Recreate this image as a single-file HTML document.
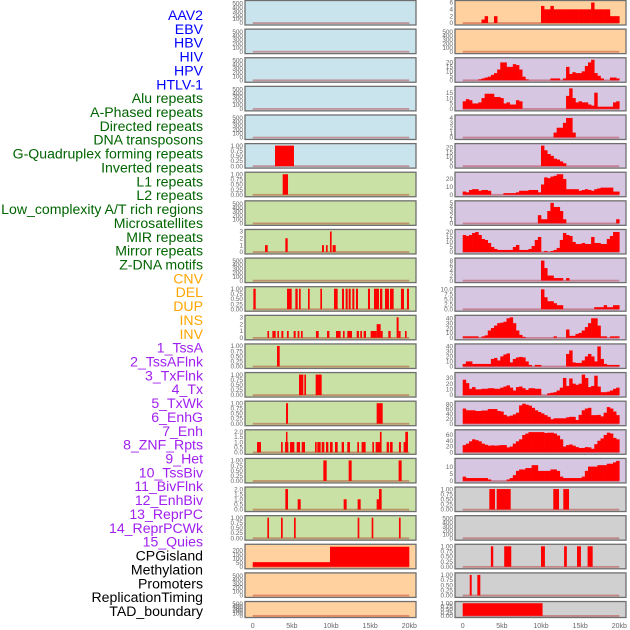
<!DOCTYPE html>
<html><head><meta charset="utf-8">
<style>
html,body{margin:0;padding:0;background:#fff;}
svg{display:block;}
</style></head>
<body>
<svg id="chart" width="630" height="630" viewBox="0 0 630 630" xmlns="http://www.w3.org/2000/svg">
<g id="labels" font-family="Liberation Sans, sans-serif" font-size="14.1" text-anchor="end"></g>
<g id="panels"></g>
<g id="xaxis" font-family="Liberation Sans, sans-serif" font-size="7" fill="#666" text-anchor="middle"></g>
</svg>
<script>
// ---- labels ----
const trackLabels = ["AAV2","EBV","HBV","HIV","HPV","HTLV-1","Alu repeats","A-Phased repeats","Directed repeats","DNA transposons","G-Quadruplex forming repeats","Inverted repeats","L1 repeats","L2 repeats","Low_complexity A/T rich regions","Microsatellites","MIR repeats","Mirror repeats","Z-DNA motifs","CNV","DEL","DUP","INS","INV","1_TssA","2_TssAFlnk","3_TxFlnk","4_Tx","5_TxWk","6_EnhG","7_Enh","8_ZNF_Rpts","9_Het","10_TssBiv","11_BivFlnk","12_EnhBiv","13_ReprPC","14_ReprPCWk","15_Quies","CPGisland","Methylation","Promoters","ReplicationTiming","TAD_boundary"];
const labelGroups = ["v","v","v","v","v","v","r","r","r","r","r","r","r","r","r","r","r","r","r","s","s","s","s","s","c","c","c","c","c","c","c","c","c","c","c","c","c","c","c","o","o","o","o","o"];
const xTickValues = [0,5000,10000,15000,20000];
const xTickLabels = ["0","5kb","10kb","15kb","20kb"];

// ---- left column: intervals [start,end,height] ----
const leftBg = ["blue","blue","blue","blue","blue","blue","green","green","green","green","green","green","green","green","green","green","green","green","green","peach","peach","peach"];
const leftMax = [0,0,0,0,0,1,1,0,3,0,1,3,1,1,1,2,1,2,1,245,0,0];
const leftTicks = [null,null,null,null,null,"u","u",null,"3",null,"u","3","u","u","u","2","u","2","u","cpg",null,null];
const leftIntervals = [
 [],[],[],[],[],
 [[2850,5270,1]],
 [[3830,4510,1]],
 [],
 [[1575,1915,1],[4170,4470,2],[8850,9100,1],[9360,9570,1],[9870,10080,3],[10210,10600,1]],
 [],
 [[85,383,1],[4383,4979,1],[5447,5745,1],[5915,6128,1],[7064,7277,1],[8638,8851,1],[10383,10851,1],[11404,11660,1],[11872,12128,1],[12255,12511,1],[12723,12979,1],[13191,13447,1],[14723,14979,1],[15489,16128,1],[16255,16553,1],[16894,17404,1],[17532,18000,1],[18936,19319,1],[19702,19957,1]],
 [[1880,2090,1],[2510,2940,1],[3150,3360,1],[3660,3910,1],[4380,4600,1],[5230,5490,1],[5740,5960,1],[6170,6380,1],[8080,8430,1],[9490,9790,1],[10640,11230,1],[11530,11740,1],[12080,12680,1],[13280,13570,1],[13740,13960,1],[14170,14470,1],[15060,15830,1],[15830,16340,2],[16340,16600,1],[17320,17620,1],[18380,18640,3],[18640,18890,1],[19450,19660,1]],
 [[3106,3447,1]],
 [[5915,6468,1],[6596,6809,1],[8042,8809,1]],
 [[4255,4511,1],[15830,16600,1]],
 [[550,1060,1],[3620,3830,1],[4130,4550,1],[4250,4420,2],[4770,5320,1],[5620,6040,1],[6260,6680,1],[7960,8170,1],[8250,8680,1],[8810,9150,1],[9360,9660,1],[9870,10210,1],[10510,10850,1],[11360,11660,1],[12080,12420,1],[13360,13570,1],[13910,14420,1],[15280,15490,1],[15700,16340,1],[16250,16460,2],[17110,17400,1],[17530,17870,1],[18680,18930,1],[19270,19740,1],[19490,19830,2]],
 [[9021,9447,1],[12255,12638,1],[18638,19021,1]],
 [[4170,4510,2],[5745,6128,1],[11617,12000,1],[13400,13787,1],[15830,16128,1],[16128,16468,2]],
 [[1872,2085,1],[3617,3830,1],[5277,5490,1],[13404,13617,1],[15191,15404,1],[18680,18894,1]],
 [[0,9872,55],[9872,20000,240]],
 [],[]
];

// ---- right column: 50 bins of 400bp (histograms) or intervals ----
const rightBg = ["peach","peach","lav","lav","lav","lav","lav","lav","lav","lav","lav","lav","lav","lav","lav","lav","lav","gray","gray","gray","gray","gray"];
const rightMax = [6,0,23,19,4.2,22,26,5,20.5,8.2,10.3,42,41,36,84,71,14.3,1,0,1,1,1];
const rightTicks = [[0,2,4,6],null,[0,5,10,15,20],[0,5,10,15],[0,1,2,3,4],[0,5,10,15,20],[0,10,20],[0,1,2,3,4,5],[0,5,10,15,20],[0,2,4,6,8],["2.5"],[0,10,20,30,40],[0,10,20,30,40],[0,10,20,30],[0,20,40,60,80],[0,20,40,60],[0,5,10],"u",null,"u","u","u"];
const binsAAV2   = [0,0,0,0,0,0,1,2,0,0,2,0,0,0,0,0,0,0,0,0,0,0,0,0,0,5,4,4,5,4,4,4,4,4,4,4,4,4,4,4,4,6,4,4,4,4,4,2,2,2];
const binsHIV    = [0,0,0,0,0,1,2,3,4,6,8,12,20,20,15,15,18,17,12,4,1,0,0,0,0,0,0,0,2,2,2,0,2,15,7,9,8,8,10,16,20,23,8,5,2,0,0,3,3,2];
const binsHPV    = [7,9,8,5,5,6,10,14,14,14,11,11,10,5,6,4,4,8,7,0,0,0,0,0,0,0,0,0,0,0,0,0,0,12,19,10,6,7,6,6,4,3,15,2,2,2,2,2,6,7];
const binsAlu    = [0,0,0,0,0,0,0,0,0,0,0,0,0,0,0,0,0,0,0,0,0,0,0,0,0,0,0,0,0,1,2,2,3,4,4,1,0,0,0,0,0,0,0,0,0,0,0,0,0,0];
const binsAPh    = [0,0,0,0,0,0,0,0,0,0,0,0,0,0,0,0,0,0,0,0,0,0,0,0,0,22,17,13,11,8,7,5,3,0,0,0,0,0,0,0,0,0,0,0,0,0,0,0,0,0];
const binsDir    = [4,3,6,7,7,5,6,6,5,0,0,0,0,2,2,2,2,3,5,5,5,6,6,6,3,13,22,21,23,24,26,26,20,7,7,7,7,5,6,7,6,5,7,8,9,9,9,9,4,4];
const binsL2     = [0,0,0,0,0,0,0,0,0,0,0,0,0,0,0,0,0,0,0,0,0,0,0,0,2,1,1,3,5,4,4,3,1,0,0,0,0,0,0,0,0,0,0,0,0,0,0,0,0,1];
const binsLowC   = [17,16,17,19,20,17,13,12,9,5,3,2,2,2,2,2,5,7,2,2,2,3,6,12,15,0,1,0,1,2,4,12,19,17,16,10,8,8,9,8,8,15,9,9,8,8,13,16,20,20];
const binsMicro  = [0,0,0,0,0,0,0,0,0,0,0,0,0,0,0,0,0,0,0,0,0,0,0,0,0,8,5,2,2,1,1,1,0,1,0,0,0,0,0,0,0,0,0,0,0,0,0,0,0,0];
const binsMirror = [0,0,0,0,0,0,0,0,0,0,0,0,0,0,0,0,0,0,0,0,0,0,0,0,0,10,6,4,4,3,2,2,0,0,0,0,0,0,0,0,0,0,1,1,1,2,1,1,2,2];
const binsZDNA   = [3,3,3,3,3,0,3,5,15,20,25,30,31,33,40,42,30,15,6,2,0,0,0,0,0,0,0,0,0,3,0,0,0,17,4,4,8,10,15,22,30,40,40,25,3,3,0,3,3,3];
const binsR13    = [5,10,10,5,5,5,5,5,5,15,17,12,20,24,26,8,15,18,19,18,10,3,0,3,3,0,0,0,0,0,0,0,0,25,32,8,7,7,12,20,25,20,10,40,15,5,3,3,3,3];
const binsR14    = [27,21,11,14,10,10,11,11,12,12,11,11,13,15,17,13,8,14,15,12,9,12,12,11,11,0,0,3,4,5,8,13,30,16,29,20,18,20,36,30,14,16,34,15,5,5,6,8,11,13];
const binsR15    = [62,55,55,55,52,52,54,54,60,60,60,52,50,36,30,33,38,45,75,82,78,74,65,55,48,42,35,28,18,22,22,22,22,26,28,28,15,36,55,62,65,35,35,36,30,45,68,62,50,35];
const binsR16    = [25,30,38,45,42,38,30,26,23,24,23,24,25,25,17,20,30,38,45,60,65,70,70,70,70,70,67,68,68,65,58,45,20,25,27,23,18,15,15,18,17,12,28,40,48,60,68,65,50,45];
const binsR17    = [3,2,2,2,2,2,2,2,1,0,0,0,0,0,1,2,4,7,8,8,9,9,11,11,7,7,7,7,8,8,7,3,2,2,2,2,2,2,3,7,10,10,10,11,11,11,12,12,13,14];
const rightIntR18 = [[3400,4130,1],[4340,6130,1],[11570,12300,1],[12850,13580,1]];
const rightIntR20 = [[3600,3900,1],[5300,6200,1],[10000,10500,1],[12950,13300,1],[14600,15100,1],[15950,16600,1]];
const rightIntR21 = [[900,1150,1],[1870,2250,1]];
const rightIntR22 = [[0,10200,1]];
const rightData = [binsAAV2,null,binsHIV,binsHPV,binsAlu,binsAPh,binsDir,binsL2,binsLowC,binsMicro,binsMirror,binsZDNA,binsR13,binsR14,binsR15,binsR16,binsR17,rightIntR18,null,rightIntR20,rightIntR21,rightIntR22];

const NS = "http://www.w3.org/2000/svg";
const colors = {v:"#0000ff",r:"#006400",s:"#ffa500",c:"#a020f0",o:"#000000"};
const bgColors = {blue:"#c9e4ec",green:"#c9e1a4",peach:"#ffd19e",lav:"#d6c6e2",gray:"#d0d0d0"};
const BIN = 400;

function mk(tag, attrs, parent){
  const e = document.createElementNS(NS, tag);
  for (const k in attrs) e.setAttribute(k, attrs[k]);
  parent.appendChild(e);
  return e;
}

// labels
const lg = document.getElementById("labels");
trackLabels.forEach((t,i)=>{
  const el = mk("text",{x:203,y:20+i*13.86,fill:colors[labelGroups[i]]},lg);
  el.textContent = t;
  
  
});

const pg = document.getElementById("panels");
function rowTop(i){ return 0.5 + i*28.62; }
function rowH(i){ return i===21 ? 16 : 24.5; }
function makeX(x0){ return v => x0 + v/20000*156.6; }
const LX0 = 252.7, RX0 = 462.7;

function tickList(spec, max){
  if (spec===null) return {vals:[0,100,200,300,400,500], max:520, fmt:v=>String(v)};
  if (spec==="u") return {vals:[0,0.25,0.5,0.75,1], max:1, fmt:v=>v.toFixed(2)};
  if (spec==="2") return {vals:[0,0.5,1,1.5,2], max:2, fmt:v=>v.toFixed(1)};
  if (spec==="3") return {vals:[0,1,2,3], max:3, fmt:v=>String(v)};
  if (spec==="cpg") return {vals:[0,50,100,150,200], max:max, fmt:v=>String(v)};
  if (Array.isArray(spec) && spec[0]==="2.5") return {vals:[0,2.5,5,7.5,10], max:max, fmt:v=>v.toFixed(1)};
  return {vals:spec, max:max, fmt:v=>String(v)};
}

function drawPanel(col, i, bgKey, ticks, xs, px, drawFn){
  const top = rowTop(i), h = rowH(i);
  const g = mk("g",{},pg);
  
  
  const bg = mk("rect",{x:px,y:top,width:171,height:h,fill:bgColors[bgKey],stroke:"#6f6f6f","stroke-width":1.3},g);
  
  
  const m = ticks.max;
  const y0 = top + h - 1.2, y1 = top + 1.2;
  const ys = v => y0 - (v + 0.04*m)/(1.08*m)*(y0-y1);
  const tg = mk("g",{"font-family":"Liberation Sans, sans-serif","font-size":6.4,fill:"#666","text-anchor":"end"},g);
  
  
  ticks.vals.forEach(v=>{
    const t = mk("text",{x:px-2,y:ys(v)+2.2},tg);
    t.textContent = ticks.fmt(v);
  });
  const base = mk("rect",{x:xs(0),y:ys(0)-0.8,width:xs(20000)-xs(0),height:1.8,fill:"rgba(170,0,0,0.35)"},g);
  
  
  if (drawFn) drawFn(g, ys);
}

function drawIntervals(g, ivs, xs, ys){
  ivs.forEach(iv=>{
    const x1 = xs(iv[0]), x2 = xs(iv[1]);
    const r = mk("rect",{x:x1,y:ys(iv[2]),width:Math.max(1.5,x2-x1),height:ys(0)-ys(iv[2]),fill:"#ff0000"},g);
    
    
  });
}
function drawBins(g, bins, xs, ys){
  bins.forEach((v,k)=>{
    if (v<=0) return;
    const x1 = xs(k*BIN), x2 = xs((k+1)*BIN);
    const r = mk("rect",{x:x1,y:ys(v),width:x2-x1+0.3,height:ys(0)-ys(v),fill:"#ff0000"},g);
    
    
  });
}

const lxs = makeX(LX0), rxs = makeX(RX0);
for (let i=0;i<22;i++){
  const ivs = leftIntervals[i];
  drawPanel("left", i, leftBg[i], tickList(leftTicks[i], leftMax[i]), lxs, 245, ivs.length ? (g,ys)=>drawIntervals(g,ivs,lxs,ys) : null);
}
for (let i=0;i<22;i++){
  const d = rightData[i];
  let fn = null;
  if (d && d.length && Array.isArray(d[0])) fn = (g,ys)=>drawIntervals(g,d,rxs,ys);
  else if (d) fn = (g,ys)=>drawBins(g,d,rxs,ys);
  drawPanel("right", i, rightBg[i], tickList(rightTicks[i], rightMax[i]), rxs, 455, fn);
}

// x axis
const xg = document.getElementById("xaxis");
[lxs, rxs].forEach(xs=>{
  xTickValues.forEach((v,k)=>{
    const t = mk("text",{x:xs(v),y:628},xg);
    t.textContent = xTickLabels[k];
    
    
  });
});
</script>
</body></html>
